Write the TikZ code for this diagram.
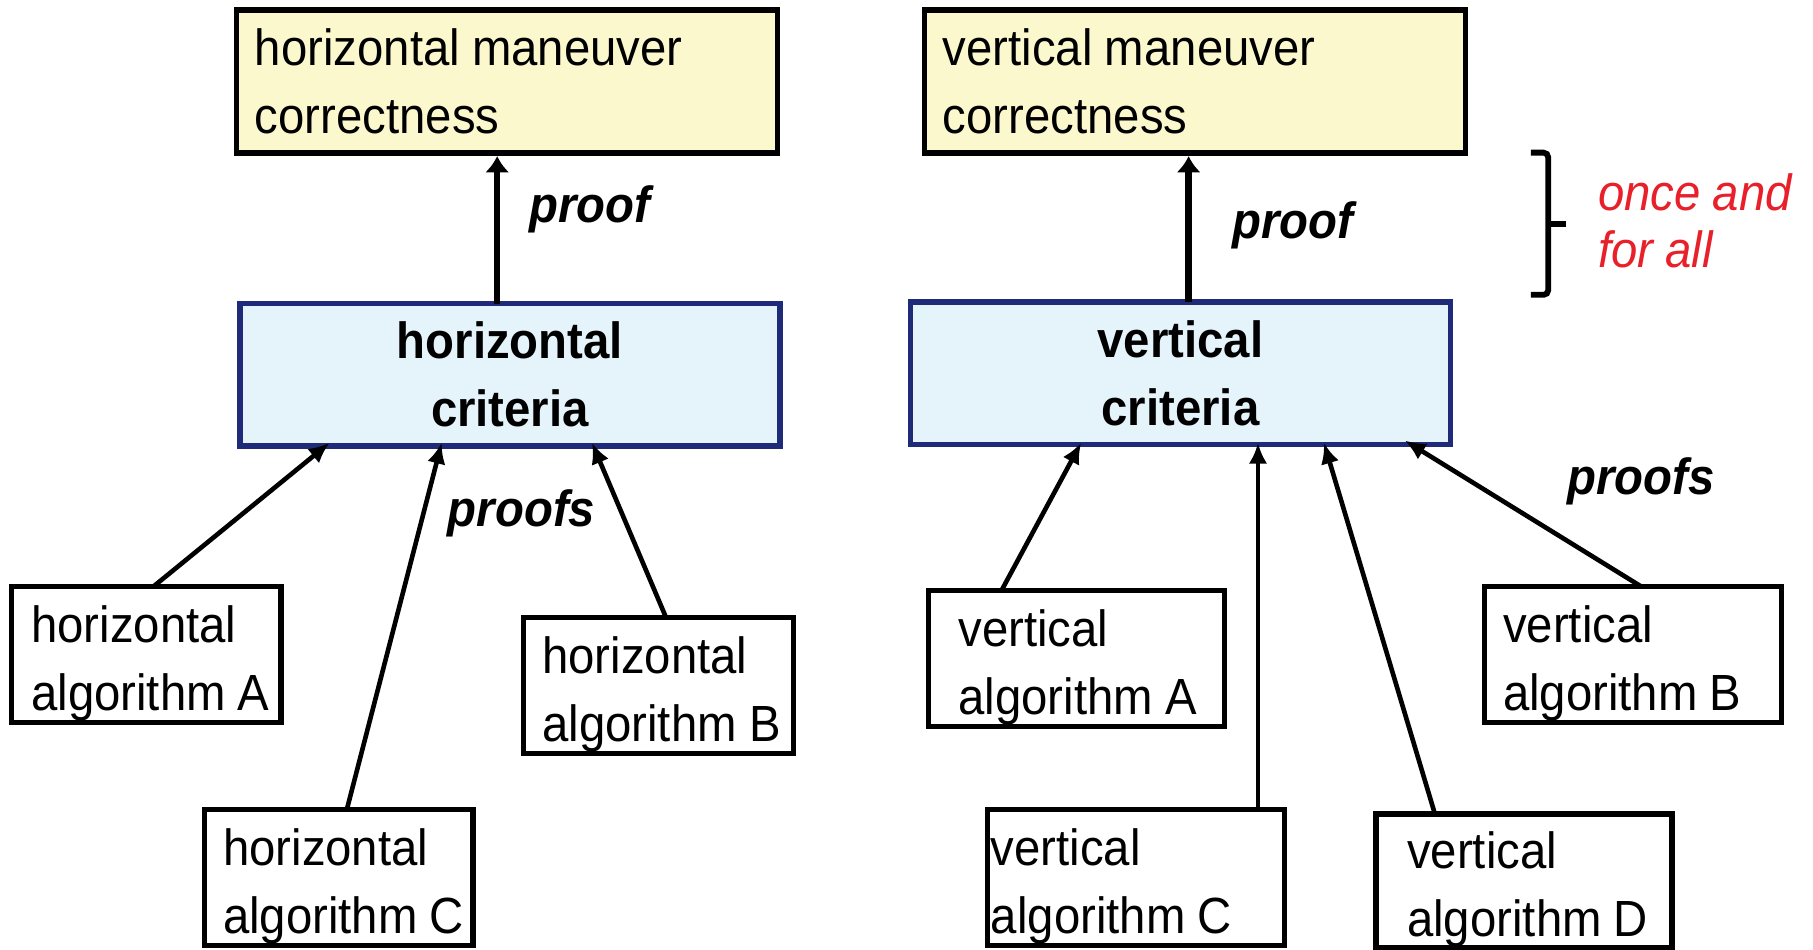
\documentclass[tikz,border=0pt]{standalone}
\usepackage{fontspec}
\setmainfont{Liberation Sans}[FakeStretch=0.93, WordSpace=0.93]
\usetikzlibrary{arrows.meta,calc}

\definecolor{boxyellow}{HTML}{FCF8CD}
\definecolor{boxblue}{HTML}{E5F4FB}
\definecolor{navy}{RGB}{31,42,120}
\definecolor{notered}{RGB}{232,32,42}

% taller first line, so the two lines of an algorithm box sit a little lower
\newcommand{\algstrut}{\rule{0pt}{47pt}}

\begin{document}
\begin{tikzpicture}[x=1pt,y=-1pt,
  txt/.style={font=\fontsize{44pt}{59pt}\selectfont},
  goal/.style={txt, draw=black, line width=5pt, fill=boxyellow, anchor=north west,
    align=flush left, minimum width=468pt, minimum height=124pt, text width=436pt,
    inner xsep=16pt, inner ysep=0pt, outer sep=0pt},
  criteria/.style={font=\fontsize{44pt}{59pt}\selectfont\bfseries, draw=navy,
    line width=5pt, fill=boxblue, anchor=north west, align=flush center,
    minimum width=467pt, minimum height=123pt, text width=440pt,
    inner xsep=13pt, inner ysep=0pt, outer sep=0pt},
  alg/.style={txt, draw=black, line width=4.5pt, fill=white, anchor=north west,
    align=flush left, inner ysep=0pt, outer sep=0pt},
  lbl/.style={font=\fontsize{44pt}{59pt}\selectfont\bfseries\itshape, inner sep=0pt},
  note/.style={font=\fontsize{44pt}{49pt}\selectfont\itshape, text=notered,
    align=left, inner sep=0pt, anchor=west},
  big arrow/.style={line width=5.5pt, -{Latex[length=14pt,width=21pt]}},
  thin arrow/.style={line width=4pt, -{Latex[length=18pt,width=16pt]}},
]
\useasboundingbox (0,0) rectangle (1568,821.6);

% goals at the top
\node[goal] (hmL) at (204.5,8.5) {\mbox{horizontal maneuver}\\correctness};
\node[goal] (hmR) at (799.5,8.5) {\mbox{vertical maneuver}\\correctness};

% criteria
\node[criteria] (critH) at (207.5,262.5) {horizontal\\criteria};
\node[criteria] (critV) at (787.5,261.5) {vertical\\criteria};

% horizontal algorithms
\node[alg, minimum width=233pt, minimum height=118pt, text width=199pt, inner xsep=17pt]
  (hA) at (10,507) {\algstrut horizontal\\\mbox{algorithm A}};
\node[alg, minimum width=233pt, minimum height=118pt, text width=201pt, inner xsep=16pt]
  (hB) at (453,534) {\algstrut horizontal\\\mbox{algorithm B}};
\node[alg, minimum width=232pt, minimum height=118pt, text width=200pt, inner xsep=16pt]
  (hC) at (177,700) {\algstrut horizontal\\\mbox{algorithm C}};

% vertical algorithms
\node[alg, minimum width=256pt, minimum height=117pt, text width=204pt, inner xsep=26pt]
  (vA) at (803,511) {\algstrut vertical\\\mbox{algorithm A}};
\node[alg, minimum width=257pt, minimum height=118pt, text width=225pt, inner xsep=16pt]
  (vB) at (1284,507) {\algstrut vertical\\\mbox{algorithm B}};
\node[alg, minimum width=257pt, minimum height=118pt, text width=251pt, inner xsep=3pt]
  (vC) at (854,700) {\algstrut vertical\\\mbox{algorithm C}};
\node[alg, minimum width=256pt, minimum height=114pt, text width=202pt, inner xsep=27pt]
  (vD) at (1190,704) {\algstrut vertical\\\mbox{algorithm D}};

% proof arrows to the goals
\coordinate (pH) at ($(critH.north west)+(222.5,0)$);
\coordinate (pV) at ($(critV.north west)+(240.5,0)$);
\draw[big arrow] (pH) -- ($(pH |- hmL.south)+(0,2.5)$);
\draw[big arrow] (pV) -- ($(pV |- hmR.south)+(0,2.5)$);

% proof arrows from the algorithms
\coordinate (pVC) at ($(vC.north west)+(234,0)$);
\draw[thin arrow] ($(hA.north west)+(123,0)$) -- ($(critH.south west)+(77.5,-2.5)$);
\draw[thin arrow] ($(hC.north west)+(123,0)$) -- ($(critH.south west)+(174.5,-2.5)$);
\draw[thin arrow] ($(hB.north west)+(123,0)$) -- ($(critH.south west)+(304.5,-2.5)$);
\draw[thin arrow] ($(vA.north west)+(63,0)$) -- ($(critV.south west)+(147.5,-1.5)$);
\draw[thin arrow] (pVC) -- ($(pVC |- critV.south)+(0,-1.5)$);
\draw[thin arrow] ($(vD.north west)+(51,0)$) -- ($(critV.south west)+(357.5,-1.5)$);
\draw[thin arrow] ($(vB.north west)+(135,0)$) -- ($(critV.south west)+(427.5,-3.5)$);

% arrow labels
\node[lbl] (lpH) at (510,181) {proof};
\node[lbl] (lpV) at (1118,195) {proof};
\node[lbl] (lpsH) at (451,444) {proofs};
\node[lbl] (lpsV) at (1419,416) {proofs};

% brace and its remark
\draw[line width=5pt, rounded corners=4pt] (1324,132) -- (1339,132) -- (1339,255) -- (1324,255);
\draw[line width=5pt] (1339,194) -- (1354,194);
\node[note] (once) at (1382,191) {once and\\for all};
\end{tikzpicture}
\end{document}
